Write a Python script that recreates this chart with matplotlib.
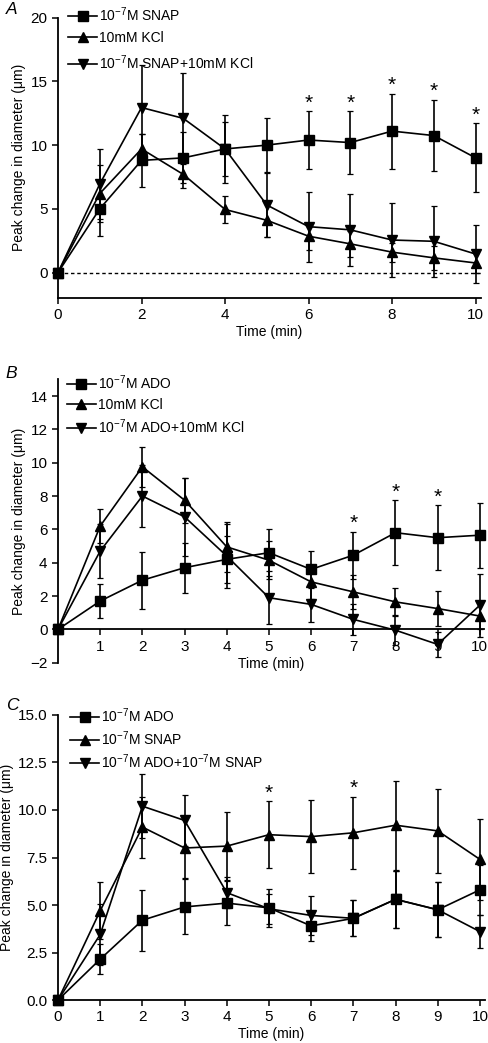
"""
Peak change in arteriolar diameter over time, three protocols (A, B, C).
Output: out.png
"""

import matplotlib
matplotlib.use("Agg")
import matplotlib.pyplot as plt

plt.rcParams["font.family"] = ["Liberation Sans", "DejaVu Sans"]
plt.rcParams["mathtext.fontset"] = "custom"
plt.rcParams["mathtext.rm"] = "Liberation Sans"
plt.rcParams["mathtext.it"] = "Liberation Sans:italic"

time = [0, 1, 2, 3, 4, 5, 6, 7, 8, 9, 10]

# --- A: SNAP / KCl ---
a_labels = [r"10$^{-7}$M SNAP", "10mM KCl", r"10$^{-7}$M SNAP+10mM KCl"]
a_snap = [0, 5.0, 8.8, 9.0, 9.7, 10.0, 10.4, 10.2, 11.1, 10.75, 9.0]
a_snap_err = [0, 2.1, 2.1, 2.0, 2.7, 2.1, 2.25, 2.45, 2.95, 2.8, 2.7]
a_kcl = [0, 6.2, 9.7, 7.7, 4.95, 4.1, 2.85, 2.25, 1.6, 1.15, 0.75]
a_kcl_err = [0, 2.25, 1.15, 1.1, 1.05, 1.3, 1.05, 1.0, 0.75, 0.95, 0.8]
a_mix = [0, 6.95, 12.95, 12.1, 9.7, 5.3, 3.6, 3.35, 2.55, 2.45, 1.45]
a_mix_err = [0, 2.75, 3.35, 3.6, 2.1, 2.55, 2.75, 2.85, 2.9, 2.8, 2.3]
a_stars = [6, 7, 8, 9, 10]

# --- B: ADO / KCl ---
b_labels = [r"10$^{-7}$M ADO", "10mM KCl", r"10$^{-7}$M ADO+10mM KCl"]
b_ado = [0, 1.7, 2.95, 3.7, 4.2, 4.6, 3.6, 4.45, 5.8, 5.5, 5.65]
b_ado_err = [0, 1.0, 1.7, 1.5, 1.4, 1.4, 1.1, 1.4, 1.95, 1.95, 1.95]
b_kcl = [0, 6.2, 9.75, 7.75, 4.95, 4.15, 2.85, 2.25, 1.65, 1.25, 0.8]
b_kcl_err = [0, 1.0, 1.2, 1.35, 1.5, 1.15, 1.0, 1.0, 0.85, 1.05, 0.75]
b_mix = [0, 4.7, 8.0, 6.75, 4.4, 1.9, 1.5, 0.6, -0.05, -0.9, 1.45]
b_mix_err = [0, 1.6, 1.85, 2.35, 1.9, 1.6, 1.05, 0.95, 0.9, 0.75, 1.9]
b_stars = [7, 8, 9]

# --- C: ADO / SNAP ---
c_labels = [r"10$^{-7}$M ADO", r"10$^{-7}$M SNAP", r"10$^{-7}$M ADO+10$^{-7}$M SNAP"]
c_ado = [0, 2.15, 4.2, 4.9, 5.1, 4.85, 3.9, 4.3, 5.3, 4.75, 5.8]
c_ado_err = [0, 0.8, 1.6, 1.45, 1.15, 1.0, 0.8, 0.95, 1.5, 1.45, 1.3]
c_snap = [0, 4.7, 9.1, 8.0, 8.1, 8.7, 8.6, 8.8, 9.2, 8.9, 7.4]
c_snap_err = [0, 1.5, 1.6, 1.6, 1.8, 1.75, 1.9, 1.9, 2.35, 2.2, 2.15]
c_mix = [0, 3.45, 10.2, 9.45, 5.65, 4.8, 4.45, 4.3, 5.3, 4.75, 3.6]
c_mix_err = [0, 1.6, 1.7, 1.35, 0.8, 0.8, 1.05, 0.95, 1.5, 1.45, 0.85]
c_stars = [5, 7]

MARKERS = [("s", 6.5), ("^", 7.5), ("v", 7.5)]


def draw_panel(ax, series, labels, stars, star_series, leg_xy, leg_space):
    handles = []
    for (y, err), (m, ms), lab in zip(series, MARKERS, labels):
        h = ax.errorbar(time, y, yerr=err, fmt="-", marker=m, ms=ms, color="black",
                        lw=1.2, elinewidth=1.2, capsize=2.5, capthick=0.9,
                        clip_on=False, zorder=3, label=lab)
        handles.append(h)
    y, err = series[star_series]
    for t in stars:
        ax.annotate("*", (t, y[t] + err[t]), xytext=(0, 6), textcoords="offset points",
                    ha="center", va="center", fontsize=15)
    ax.legend(handles=[h[0] for h in handles], labels=labels, loc="upper left",
              bbox_to_anchor=leg_xy, frameon=False, fontsize=10, handlelength=2.1,
              handletextpad=0.15, borderpad=0, borderaxespad=0, labelspacing=leg_space)
    for s in ["top", "right"]:
        ax.spines[s].set_visible(False)
    for s in ["left", "bottom"]:
        ax.spines[s].set_linewidth(1.3)
    ax.tick_params(width=1.1, length=4, labelsize=11)
    ax.set_ylabel("Peak change in diameter (\u03bcm)", fontsize=10, labelpad=3)
    ax.set_xlabel("Time (min)", fontsize=10, labelpad=2)


fig = plt.figure(figsize=(4.88, 10.43), dpi=100)

# A
ax = fig.add_axes([0.1189, 0.7143, 0.8668, 0.2687])
ax.axhline(0, color="black", lw=1, ls=(0, (2.5, 2)), zorder=1)
draw_panel(ax, [(a_snap, a_snap_err), (a_kcl, a_kcl_err), (a_mix, a_mix_err)],
           a_labels, a_stars, 0, (0.024, 1.045), 0.55)
ax.set_xlim(0, 10.13)
ax.set_ylim(-2, 20)
ax.set_xticks([0, 2, 4, 6, 8, 10])
ax.set_yticks([0, 5, 10, 15, 20])

# B
ax = fig.add_axes([0.1189, 0.3646, 0.873, 0.2717])
draw_panel(ax, [(b_ado, b_ado_err), (b_kcl, b_kcl_err), (b_mix, b_mix_err)],
           b_labels, b_stars, 0, (0.02, 1.02), 0.4)
ax.spines["bottom"].set_position(("data", 0))
ax.set_xlim(0, 10.1)
ax.set_ylim(-2, 15)
ax.set_xticks([1, 2, 3, 4, 5, 6, 7, 8, 9, 10])
ax.set_yticks([-2, 0, 2, 4, 6, 8, 10, 12, 14])
ax.set_yticklabels(["\u22122", "0", "2", "4", "6", "8", "10", "12", "14"])

# C
ax = fig.add_axes([0.1189, 0.0412, 0.875, 0.2733])
draw_panel(ax, [(c_ado, c_ado_err), (c_snap, c_snap_err), (c_mix, c_mix_err)],
           c_labels, c_stars, 1, (0.028, 1.03), 0.32)
ax.set_xlim(0, 10.12)
ax.set_ylim(0, 15)
ax.set_xticks(time)
ax.set_yticks([0, 2.5, 5, 7.5, 10, 12.5, 15])
ax.set_yticklabels(["0.0", "2.5", "5.0", "7.5", "10.0", "12.5", "15.0"])

for letter, ypix in [("A", 10), ("B", 374), ("C", 706)]:
    fig.text(0.012, 1 - ypix / 1043, letter, fontsize=12.5, style="italic", va="center")

fig.savefig("out.png", dpi=100)
